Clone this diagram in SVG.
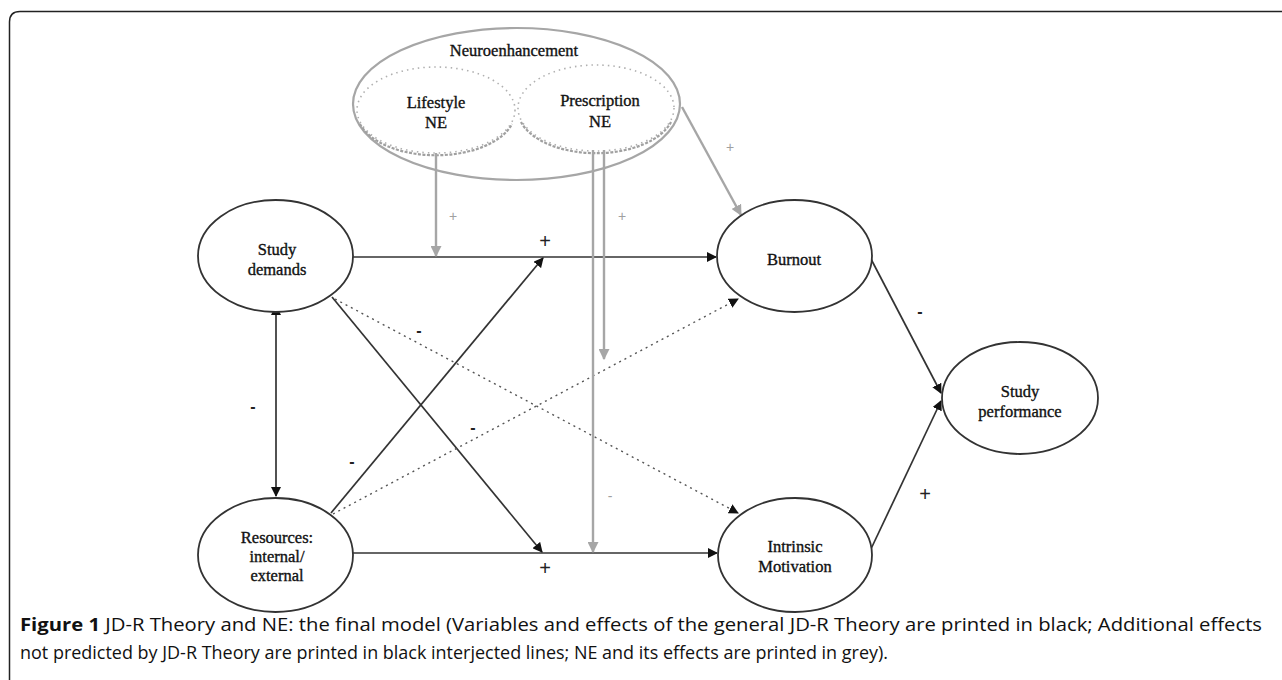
<svg xmlns="http://www.w3.org/2000/svg" width="1282" height="680" viewBox="0 0 1282 680">
<defs>
<marker id="ah" viewBox="0 0 10 10" refX="9" refY="5" markerWidth="10" markerHeight="10" markerUnits="userSpaceOnUse" orient="auto"><path d="M0,0 L10,5 L0,10 z" fill="#111"/></marker>
<marker id="ahs" viewBox="0 0 10 10" refX="1" refY="5" markerWidth="10" markerHeight="10" markerUnits="userSpaceOnUse" orient="auto-start-reverse"><path d="M0,0 L10,5 L0,10 z" fill="#111"/></marker>
<marker id="ag" viewBox="0 0 10 10" refX="9" refY="5" markerWidth="11" markerHeight="11" markerUnits="userSpaceOnUse" orient="auto"><path d="M0,0 L10,5 L0,10 z" fill="#a6a6a6"/></marker>
</defs>
<style>
.node{fill:#fff;stroke:#333;stroke-width:1.8}
.t{font-family:"Liberation Serif",serif;font-size:16.5px;fill:#111;stroke:#111;stroke-width:0.35;text-anchor:middle}
.k{stroke:#333;stroke-width:1.7;fill:none}
.d{stroke:#555;stroke-width:1.4;fill:none;stroke-dasharray:2 4}
.g{stroke:#a6a6a6;stroke-width:2.4;fill:none}
.gd{stroke:#b0b0b0;stroke-width:1.6;fill:none;stroke-dasharray:1.5 4}
.gb{stroke:#a0a0a0;stroke-width:2.2;fill:none;stroke-dasharray:3 1.5}
.lb{font-family:"Liberation Sans",sans-serif;font-size:20px;fill:#222;text-anchor:middle}
.lm{font-family:"Liberation Sans",sans-serif;font-size:16px;font-weight:bold;fill:#222;text-anchor:middle}
.lg{font-family:"Liberation Sans",sans-serif;font-size:14px;fill:#a0a0a0;text-anchor:middle}
.cap{font-family:"Open Sans","Liberation Sans",sans-serif;font-size:18px;fill:#111}
</style>
<rect width="1282" height="680" fill="#fff"/>
<path d="M9.5 680 V22 Q9.5 11.5 20 11.5 H1282" fill="none" stroke="#222" stroke-width="1.5"/>

<g id="neuroenhancement">
<ellipse cx="516.5" cy="104" rx="163.5" ry="76" fill="none" stroke="#a6a6a6" stroke-width="2.2"/>
<text class="t" x="514" y="56">Neuroenhancement</text>
</g>
<g id="lifestyle-ne">
<ellipse cx="436" cy="110" rx="79" ry="43" class="gd"/>
<path class="gb" d="M360 124 A79 43 0 0 0 512 124"/>
<text class="t" x="436" y="108">Lifestyle</text>
<text class="t" x="436" y="128">NE</text>
</g>
<g id="prescription-ne">
<ellipse cx="596" cy="108" rx="78" ry="43" class="gd"/>
<path class="gb" d="M521 122 A78 43 0 0 0 671 122"/>
<text class="t" x="600" y="106">Prescription</text>
<text class="t" x="600" y="127">NE</text>
</g>

<g id="connectors">
<line class="k" x1="353" y1="257" x2="716" y2="257" marker-end="url(#ah)"/>
<line class="k" x1="353" y1="553" x2="717" y2="553" marker-end="url(#ah)"/>
<line class="k" x1="276" y1="314" x2="276" y2="496" marker-start="url(#ahs)" marker-end="url(#ah)"/>
<line class="k" x1="332" y1="297" x2="542" y2="552" marker-end="url(#ah)"/>
<line class="k" x1="331" y1="513" x2="543" y2="258" marker-end="url(#ah)"/>
<line class="d" x1="335" y1="299" x2="738" y2="513" marker-end="url(#ah)"/>
<line class="d" x1="333" y1="514" x2="738" y2="299" marker-end="url(#ah)"/>
<line class="k" x1="871" y1="259" x2="941" y2="393" marker-end="url(#ah)"/>
<line class="k" x1="870" y1="551" x2="941" y2="401" marker-end="url(#ah)"/>
<line class="g" x1="436" y1="153" x2="436" y2="256" marker-end="url(#ag)"/>
<line class="g" x1="593" y1="150" x2="593" y2="552" marker-end="url(#ag)"/>
<line class="g" x1="604" y1="150" x2="604" y2="359" marker-end="url(#ag)"/>
<line class="g" x1="682" y1="107" x2="741" y2="215" marker-end="url(#ag)"/>
</g>

<g id="labels">
<text class="lb" x="545" y="248">+</text>
<text class="lb" x="545" y="575">+</text>
<text class="lb" x="925" y="501">+</text>
<text class="lm" x="253" y="412">-</text>
<text class="lm" x="419" y="336">-</text>
<text class="lm" x="473" y="433">-</text>
<text class="lm" x="352" y="467">-</text>
<text class="lm" x="920" y="317">-</text>
<text class="lg" x="453" y="221">+</text>
<text class="lg" x="622" y="221">+</text>
<text class="lg" x="730" y="152">+</text>
<text class="lg" x="610" y="501">-</text>
</g>

<g id="study-demands">
<ellipse class="node" cx="275.5" cy="256" rx="77.5" ry="56"/>
<text class="t" x="277" y="255">Study</text>
<text class="t" x="277" y="275">demands</text>
</g>
<g id="resources">
<ellipse class="node" cx="275.5" cy="555" rx="77.5" ry="57"/>
<text class="t" x="277" y="543">Resources:</text>
<text class="t" x="277" y="562">internal/</text>
<text class="t" x="277" y="581">external</text>
</g>
<g id="burnout">
<ellipse class="node" cx="794.5" cy="256" rx="77.5" ry="56"/>
<text class="t" x="794" y="265">Burnout</text>
</g>
<g id="intrinsic-motivation">
<ellipse class="node" cx="795" cy="555" rx="77" ry="57"/>
<text class="t" x="795" y="552">Intrinsic</text>
<text class="t" x="795" y="572">Motivation</text>
</g>
<g id="study-performance">
<ellipse class="node" cx="1020" cy="398" rx="78" ry="56"/>
<text class="t" x="1020" y="397">Study</text>
<text class="t" x="1020" y="417">performance</text>
</g>

<g id="caption">
<text class="cap" x="20" y="631" textLength="1242" lengthAdjust="spacingAndGlyphs"><tspan font-weight="bold">Figure 1</tspan> JD-R Theory and NE: the final model (Variables and effects of the general JD-R Theory are printed in black; Additional effects</text>
<text class="cap" x="20" y="659" textLength="868" lengthAdjust="spacingAndGlyphs">not predicted by JD-R Theory are printed in black interjected lines; NE and its effects are printed in grey).</text>
</g>
</svg>
